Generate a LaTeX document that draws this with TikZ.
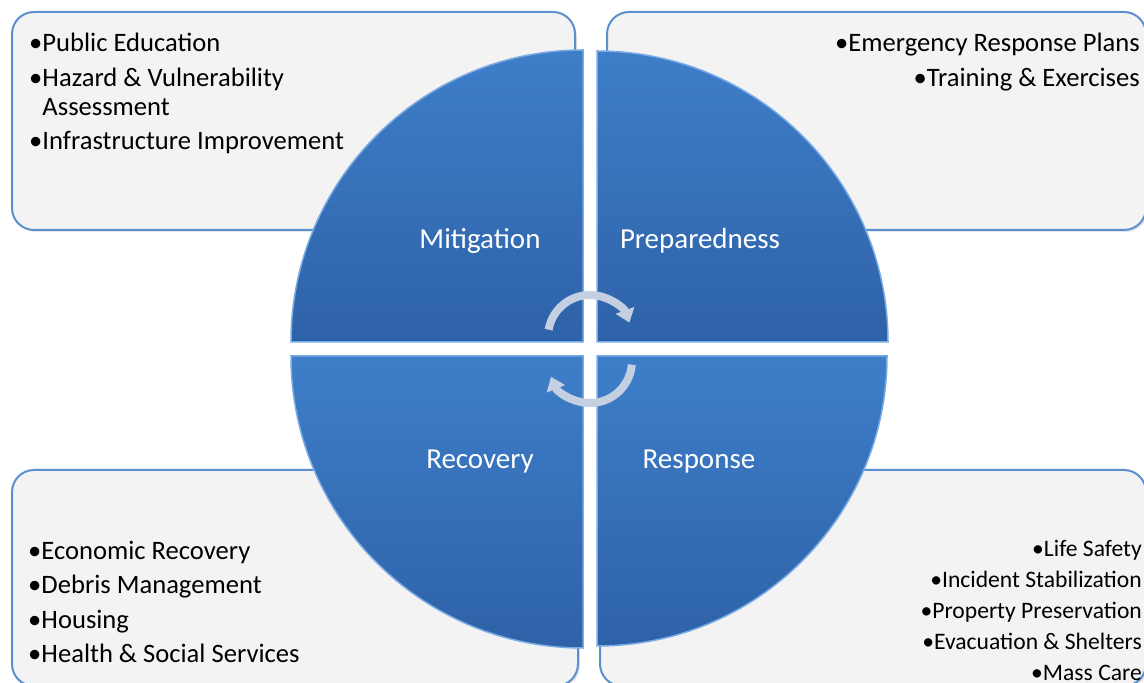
\documentclass[tikz,border=0pt]{standalone}
\usepackage{fontspec}
\setmainfont{Carlito}
\usetikzlibrary{arrows.meta,shadows}

\definecolor{boxfill}{RGB}{243,243,243}
\definecolor{boxline}{RGB}{91,143,208}
\definecolor{quadtop}{RGB}{62,126,201}
\definecolor{quadbot}{RGB}{46,98,168}
\definecolor{quadrim}{RGB}{120,170,228}
\definecolor{cyclegray}{RGB}{196,208,226}

\tikzset{
  infobox/.style={fill=boxfill, draw=boxline, line width=2pt, rounded corners=22pt,
    drop shadow={shadow xshift=2pt, shadow yshift=-2pt, opacity=0.2}},
  quadrant/.style={top color=quadtop, bottom color=quadbot, draw=quadrim, line width=1.5pt},
  phase/.style={text=white, inner sep=0pt, font=\fontsize{29}{34}\selectfont},
  itemlist/.style={inner sep=0pt, font=\fontsize{26.6}{29}\selectfont},
  smalllist/.style={inner sep=0pt, font=\fontsize{23.6}{31}\selectfont},
  cyclearrow/.style={draw=cyclegray, line width=8pt, -{Triangle[width=19pt,length=13pt]}}
}

\begin{document}
\begin{tikzpicture}[x=1pt, y=1pt]
  \useasboundingbox (0,0) rectangle (1144,683);
  \fill[white] (0,0) rectangle (1144,683);

  % corner boxes
  \draw[infobox] (12,453) rectangle (575,671);
  \draw[infobox] (607,453) rectangle (1146,671);
  \draw[infobox] (12,-3) rectangle (578,213);
  \draw[infobox] (600,-3) rectangle (1146,213);

  % the four quarters
  \draw[quadrant] (583,341) -- (291,341) arc[start angle=180, end angle=90, radius=292] -- cycle;
  \draw[quadrant] (597,341) -- (597,632) arc[start angle=90, end angle=0, radius=291] -- cycle;
  \draw[quadrant] (583,327) -- (583,35) arc[start angle=270, end angle=180, radius=292] -- cycle;
  \draw[quadrant] (597,327) -- (887,327) arc[start angle=0, end angle=-90, radius=290] -- cycle;

  \node[phase] (mitigation) at (480,442) {Mitigation};
  \node[phase] (preparedness) at (700,442) {Preparedness};
  \node[phase] (recovery) at (480,221) {Recovery};
  \node[phase] (response) at (699,221) {Response};

  % lists
  \node[itemlist, anchor=north west, align=left] (mitlist) at (29,650)
    {\textbullet Public Education\\[5.5pt]
     \textbullet Hazard \& Vulnerability\\
     \hphantom{\textbullet}Assessment\\[5.5pt]
     \textbullet Infrastructure Improvement};
  \node[itemlist, anchor=north east, align=right] (preplist) at (1140,650)
    {\textbullet Emergency Response Plans\\[5.5pt]
     \textbullet Training \& Exercises};
  \node[itemlist, anchor=north west, align=left] (reclist) at (28,142)
    {\textbullet Economic Recovery\\[5.3pt]
     \textbullet Debris Management\\[5.3pt]
     \textbullet Housing\\[5.3pt]
     \textbullet Health \& Social Services};
  \node[smalllist, anchor=north east, align=right] (resplist) at (1142,143)
    {\textbullet Life Safety\\
     \textbullet Incident Stabilization\\
     \textbullet Property Preservation\\
     \textbullet Evacuation \& Shelters\\
     \textbullet Mass Care};

  % cycle arrows
  \coordinate (cycletop) at (548.6,353.3);
  \coordinate (cyclebot) at (631.8,318.3);
  \draw[cyclearrow] (cycletop) arc[start angle=170, end angle=20, radius=42];
  \draw[cyclearrow] (cyclebot) arc[start angle=-5, end angle=-158, radius=42];
\end{tikzpicture}
\end{document}
